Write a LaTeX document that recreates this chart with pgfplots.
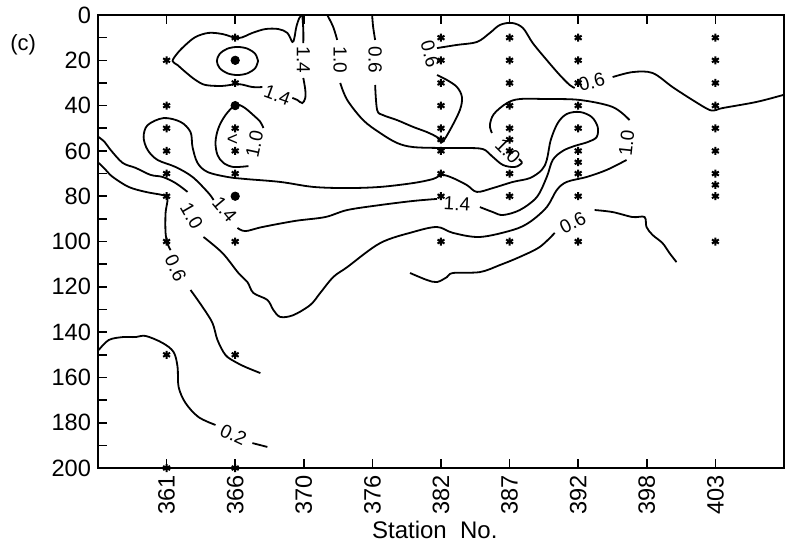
\documentclass[border=0pt]{standalone}
\usepackage{pgfplots}
\pgfplotsset{compat=1.18}
\usepackage{fontspec}
\setmainfont{Liberation Sans}
\tikzset{
 contour/.style={black, line width=0.9pt, smooth, tension=0.55, mark=none},
 lab/.style={font=\fontsize{9.5}{11}\selectfont, inner sep=0pt},
}
\begin{document}
\begin{tikzpicture}
\begin{axis}[
 scale only axis, width=343pt, height=226.5pt,
 xmin=-1, xmax=9, ymin=0, ymax=200, y dir=reverse,
 xtick={0,...,8}, xticklabels={361,366,370,376,382,387,392,398,403},
 ytick={0,20,...,200}, minor ytick={10,30,...,190},
 tick align=inside, xtick pos=both, ytick pos=left, xticklabel pos=lower,
 major tick length=4.5pt, minor tick length=4.5pt,
 every tick/.style={black, line width=0.8pt},
 axis line style={line width=1pt},
 ticklabel style={font=\fontsize{11.8}{13}\selectfont},
 xticklabel style={rotate=90, anchor=east},
 /pgf/number format/assume math mode=true,
 clip=false,
]
% ---- contour 1.4 (top) ----
\addplot[contour] coordinates {(1.978,0) (1.993,6.6) (1.993,12.4)};
\addplot[contour] coordinates {(1.993,27.8) (2.022,33.1) (2.022,36.6) (1.978,38.9) (1.905,37.5) (1.833,36.6)};
\addplot[contour] coordinates {(1.396,31.8) (1.251,31.8) (1.047,30.5) (0.815,31.3) (0.567,30.9) (0.422,28.7) (0.276,25.2) (0.160,22.1) (0.087,20.3) (0.160,16.8) (0.276,13.2) (0.422,9.7) (0.611,7.9) (0.815,8.4) (1.047,10.2) (1.251,7.9) (1.440,6.2) (1.629,6.2) (1.760,7.9) (1.833,11.9) (1.862,10.2) (1.891,5.3) (1.935,1.3) (1.978,0)};
% ---- inner closed contour at 366/20 ----
\addplot[contour] coordinates {(1.333,20.3) (1.293,17.2) (1.183,14.9) (1.033,14.1) (0.883,14.9) (0.773,17.2) (0.733,20.3) (0.773,23.4) (0.883,25.7) (1.033,26.5) (1.183,25.7) (1.293,23.4) (1.333,20.3)};
% ---- <1.0 loop ----
\addplot[contour] coordinates {(1.193,66.7) (0.975,67.1) (0.829,65.3) (0.742,61.8) (0.713,56.1) (0.756,49.9) (0.858,44.2) (1.004,39.7) (1.120,40.6) (1.265,44.2) (1.367,47.2) (1.411,49.9)};
% ---- contour 1.4 (long) ----
\addplot[contour] coordinates {(1.033,94.0) (1.149,95.4) (1.396,93.6) (1.876,90.9) (2.313,89.2) (2.633,86.1) (3.113,83.9) (3.593,82.1) (3.942,81.2)};
\addplot[contour] coordinates {(4.567,84.8) (4.756,87.0) (4.902,88.3) (5.149,86.1) (5.396,80.4) (5.542,71.5) (5.629,64.0) (5.775,60.0) (5.949,57.8) (6.138,56.1) (6.269,53.9) (6.284,49.4) (6.196,45.0) (6.022,42.8) (5.833,43.7) (5.702,47.7) (5.600,55.2) (5.542,64.0) (5.469,68.4) (5.295,72.0) (5.047,73.7) (4.756,76.4) (4.524,78.1) (4.378,75.1) (4.175,72.0) (4.015,70.6) (3.884,72.4) (3.593,74.2) (3.113,75.9) (2.633,76.4) (2.138,75.9) (1.658,73.7) (1.149,72.4) (0.887,71.5) (0.596,69.3) (0.451,65.3) (0.378,58.3) (0.349,51.7) (0.204,47.2) (-0.044,45.5) (-0.276,48.6) (-0.335,53.9) (-0.276,59.6) (-0.131,64.0) (0.131,67.1) (0.378,71.5) (0.611,78.6) (0.684,81.7)};
% ---- contour 1.0 ----
\addplot[contour] coordinates {(2.342,0) (2.429,5.3) (2.487,11.0)};
\addplot[contour] coordinates {(2.531,30.0) (2.633,37.5) (2.865,46.4) (3.113,52.1) (3.360,56.5) (3.593,58.3) (3.985,58.7) (4.349,58.7) (4.611,59.2) (4.742,62.3) (4.902,66.2) (5.076,67.1) (5.178,65.3) (5.135,63.6)};
\addplot[contour] coordinates {(4.742,52.1) (4.713,48.6) (4.771,43.7) (4.960,38.9) (5.149,37.1) (5.542,37.1) (6.022,37.5) (6.502,40.6) (6.749,46.4)};
\addplot[contour] coordinates {(6.705,64.0) (6.415,68.4) (6.124,71.5) (5.833,73.7) (5.687,77.3) (5.542,84.8) (5.295,91.4) (5.047,94.9) (4.567,98.0) (4.175,96.2) (3.942,93.6) (3.593,95.8) (3.113,100.7) (2.633,111.3) (2.429,115.7) (2.240,122.7) (2.095,128.0) (1.847,132.5) (1.658,133.3) (1.556,130.2) (1.469,125.8) (1.265,122.7) (1.178,117.9) (1.047,113.9) (0.815,105.1) (0.538,98.0)};
\addplot[contour] coordinates {(0.305,78.1) (0.131,74.2) (-0.058,71.5) (-0.233,70.6) (-0.451,67.5) (-0.640,65.3) (-0.815,59.6) (-0.902,56.1) (-0.989,53.9)};
% ---- contour 0.6 (upper) ----
\addplot[contour] coordinates {(2.996,0) (3.011,5.3) (3.040,11.0)};
\addplot[contour] coordinates {(3.040,30.9) (3.069,41.9) (3.156,44.2) (3.360,46.4) (3.593,49.4) (3.796,51.7) (3.942,53.9) (4.015,56.1) (4.131,50.8) (4.276,41.9) (4.305,36.2) (4.233,31.8) (4.087,28.7) (3.942,26.5)};
\addplot[contour] coordinates {(3.942,14.6) (4.233,13.2) (4.524,11.9) (4.713,7.9) (4.858,4.4) (5.033,3.5) (5.193,5.7) (5.338,12.4) (5.542,19.9) (5.731,26.5) (5.876,30.9) (5.949,32.2)};
\addplot[contour] coordinates {(6.502,27.4) (6.793,25.2) (7.084,25.6) (7.375,31.8) (7.665,37.5) (7.913,41.9) (8.015,41.9) (8.102,41.1) (8.596,38.4) (8.989,35.3)};
% ---- contour 0.6 (lower left) ----
\addplot[contour] coordinates {(-0.989,65.3) (-0.887,68.4) (-0.785,71.5) (-0.553,75.9) (-0.305,78.1) (-0.058,79.5) (0.015,80.8) (-0.015,87.4) (-0.015,96.2) (0.015,101.1) (0.058,103.8)};
\addplot[contour] coordinates {(0.349,121.4) (0.524,128.9) (0.669,136.0) (0.742,143.5) (0.858,150.1) (1.004,153.2) (1.149,155.4) (1.367,158.1)};
% ---- contour 0.6 (middle right) ----
\addplot[contour] coordinates {(3.549,113.9) (3.796,117.0) (3.942,117.9) (4.087,115.7) (4.175,113.9) (4.567,113.5) (4.858,110.4) (5.149,106.8) (5.440,102.4) (5.658,96.2)};
\addplot[contour] coordinates {(6.240,86.1) (6.502,87.0) (6.793,89.2) (6.967,89.2) (6.996,93.6) (7.084,97.1) (7.229,100.7) (7.331,105.1) (7.433,109.1)};
% ---- contour 0.2 ----
\addplot[contour] coordinates {(-0.989,147.9) (-0.844,143.5) (-0.640,142.2) (-0.451,142.2) (-0.305,141.7) (-0.058,144.8) (0.102,148.8) (0.160,155.4) (0.175,164.2) (0.276,171.3) (0.465,177.5) (0.713,181.0)};
\addplot[contour] coordinates {(1.251,189.0) (1.469,190.7)};
% ---- sampling points ----
\addplot[only marks, mark=asterisk, mark size=2pt, line width=1pt, black] coordinates {
(0,20) (0,40) (0,50) (0,60) (0,70) (0,80) (0,100) (0,150) (0,200)
(1,10) (1,30) (1,50) (1,60) (1,70) (1,100) (1,150) (1,200)
(4,10) (4,20) (4,30) (4,40) (4,50) (4,55) (4,60) (4,70) (4,80) (4,100)
(5,10) (5,20) (5,30) (5,40) (5,50) (5,55) (5,60) (5,70) (5,80) (5,100)
(6,10) (6,20) (6,30) (6,40) (6,50) (6,60) (6,65) (6,70) (6,80) (6,100)
(8,10) (8,20) (8,30) (8,40) (8,50) (8,60) (8,70) (8,75) (8,80) (8,100)};
\addplot[only marks, mark=*, mark size=2.1pt, black] coordinates {(1,20) (1,40) (1,80)};
% ---- contour labels ----
\node[lab, rotate=-90] at (axis cs:1.993,19.9) {1.4};
\node[lab, rotate=-20] at (axis cs:1.615,35.3) {1.4};
\node[lab, rotate=-90] at (axis cs:2.531,19.9) {1.0};
\node[lab, rotate=-90] at (axis cs:3.040,19.9) {0.6};
\node[lab, rotate=-75] at (axis cs:3.840,17.2) {0.6};
\node[lab, rotate=15] at (axis cs:6.196,29.6) {0.6};
\node[lab, rotate=-45] at (axis cs:4.975,60.0) {1.0};
\node[lab, rotate=84] at (axis cs:6.705,56.5) {1.0};
\node[lab, rotate=27] at (axis cs:5.920,91.8) {0.6};
\node[lab, rotate=-3] at (axis cs:4.233,83.4) {1.4};
\node[lab, rotate=78] at (axis cs:1.280,57.0) {1.0};
\node[lab] at (axis cs:0.960,55.2) {<};
\node[lab, rotate=-50] at (axis cs:0.845,85.8) {1.4};
\node[lab, rotate=-60] at (axis cs:0.365,88.8) {1.0};
\node[lab, rotate=-65] at (axis cs:0.131,111.7) {0.6};
\node[lab, rotate=-25] at (axis cs:0.975,185.4) {0.2};
% ---- other text ----
\node[font=\fontsize{11}{13}\selectfont] at (axis cs:-2.09,13.2) {(c)};
\node[font=\fontsize{12}{14}\selectfont, yshift=-31pt] at (axis cs:3.91,200) {Station\ \ No.};
\end{axis}
\path (current axis.south west) ++(-49pt,-40pt) coordinate (bbA);
\path (current axis.north east) ++(0.5pt,7.5pt) coordinate (bbB);
\path (bbA) rectangle (bbB);
\end{tikzpicture}
\end{document}
